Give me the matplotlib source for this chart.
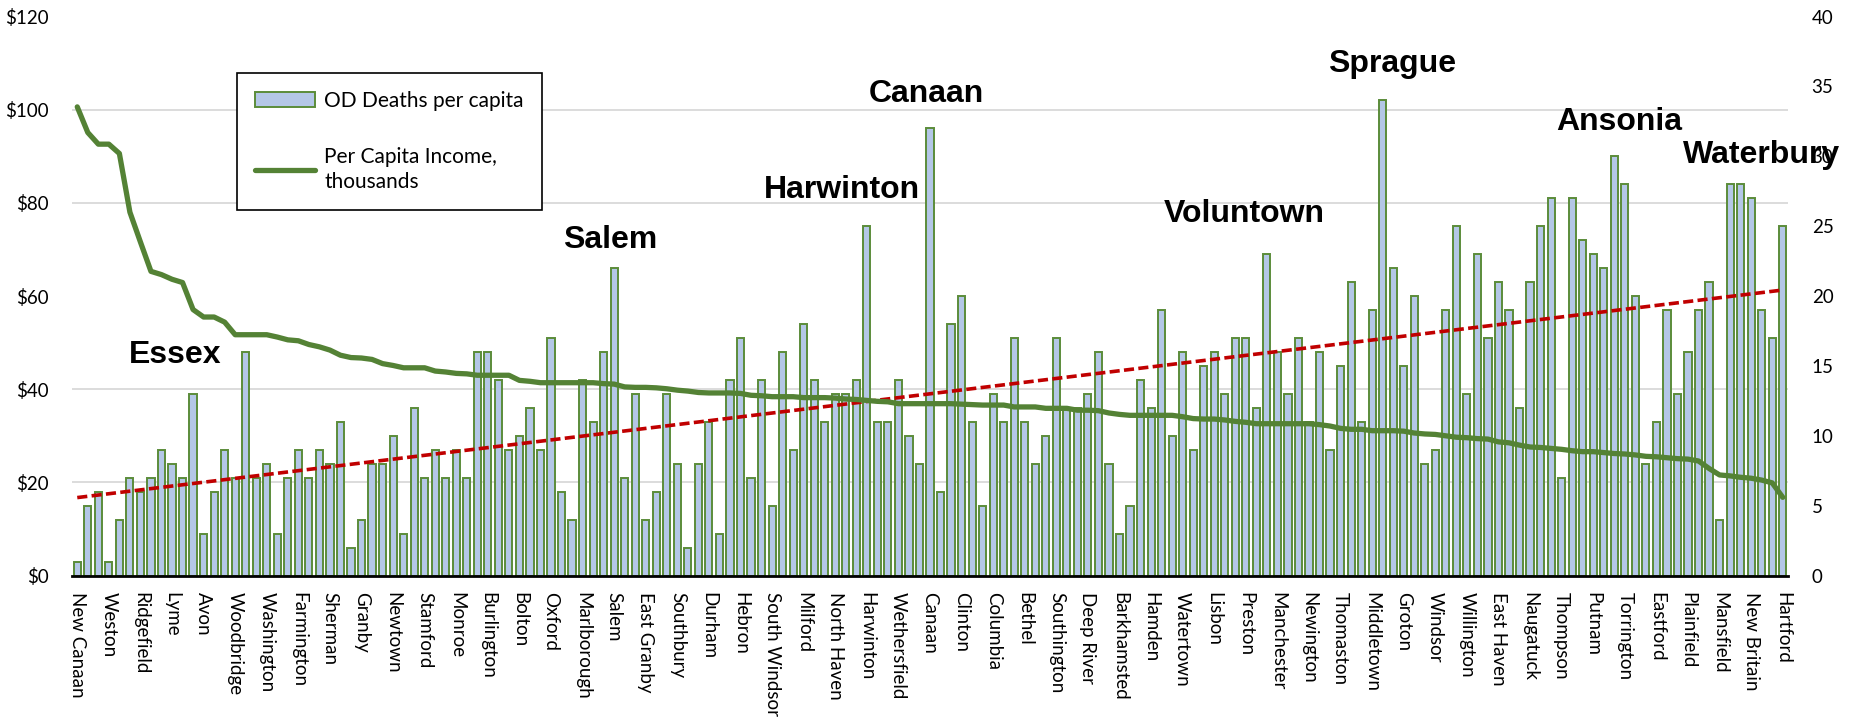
import matplotlib.pyplot as plt
import numpy as np
from matplotlib.ticker import FuncFormatter, MultipleLocator

# OD deaths per capita (right axis), one bar per town, sorted by income
od_deaths = [1, 5, 6, 1, 4, 7, 6, 7, 9, 8, 7, 13, 3, 6, 9, 7, 16, 7, 8, 3, 7, 9, 7, 9, 8, 11,
             2, 4, 8, 8, 10, 3, 12, 7, 9, 7, 9, 7, 16, 16, 14, 9, 10, 12, 9, 17, 6, 4, 14, 11, 16, 22, 7, 13,
             4, 6, 13, 8, 2, 8, 11, 3, 14, 17, 7, 14, 5, 16, 9, 18, 14, 11, 13, 13, 14, 25, 11, 11, 14, 10, 8, 32,
             6, 18, 20, 11, 5, 13, 11, 17, 11, 8, 10, 17, 12, 12, 13, 16, 8, 3, 5, 14, 12, 19, 10, 16, 9, 15, 16,
             13, 17, 17, 12, 23, 16, 13, 17, 11, 16, 9, 15, 21, 11, 19, 34, 22, 15, 20, 8, 9, 19, 25, 13, 23, 17, 21, 19,
             12, 21, 25, 27, 7, 27, 24, 23, 22, 30, 28, 20, 8, 11, 19, 13, 16, 19, 21, 4, 28, 28, 27, 19, 17, 25]

# per capita income, thousands of dollars (left axis)
income = [100.6, 95.1, 92.6, 92.6, 90.6, 78.0, 71.6, 65.3, 64.6, 63.6, 62.9, 57.1, 55.5, 55.5, 54.4,
          51.7, 51.7, 51.7, 51.7, 51.2, 50.6, 50.4, 49.6, 49.1, 48.4, 47.3, 46.8,
          46.7, 46.4, 45.5, 45.1, 44.6, 44.6, 44.6, 43.9, 43.7, 43.4, 43.3, 43.0, 43.0, 43.0, 43.0,
          41.9, 41.7, 41.4, 41.4, 41.4, 41.4, 41.4, 41.4, 41.2, 41.1, 40.5, 40.4, 40.4,
          40.3, 40.1, 39.8, 39.6, 39.3, 39.2, 39.2, 39.2, 39.1, 38.7, 38.6, 38.4, 38.4, 38.4, 38.2,
          38.2, 38.2, 38.1, 37.9, 37.8, 37.6, 37.4, 37.3, 36.9, 36.9, 36.9, 36.9,
          36.9, 36.9, 36.8, 36.7, 36.6, 36.6, 36.6, 36.2, 36.2, 36.2, 35.9, 35.9, 35.9, 35.5, 35.5,
          35.4, 34.9, 34.6, 34.4, 34.4, 34.4, 34.4, 34.4, 34.1, 33.7, 33.6, 33.6,
          33.4, 33.1, 32.9, 32.6, 32.6, 32.6, 32.6, 32.6, 32.6, 32.4, 32.1, 31.6, 31.4, 31.4, 31.1,
          31.1, 31.1, 31.0, 30.6, 30.4, 30.3, 30.0, 29.7, 29.6, 29.4, 29.3, 28.7, 28.5,
          28.0, 27.6, 27.5, 27.3, 27.1, 26.8, 26.6, 26.6, 26.4, 26.2, 26.1, 25.9, 25.6, 25.5, 25.3,
          25.1, 25.0, 24.6, 23.0, 21.6, 21.4, 21.1, 20.9, 20.5, 19.9, 16.8]

# every third town is labelled on the x axis
tick_labels = ['New Canaan', 'Weston', 'Ridgefield', 'Lyme', 'Avon', 'Woodbridge', 'Washington',
               'Farmington', 'Sherman', 'Granby', 'Newtown', 'Stamford', 'Monroe', 'Burlington',
               'Bolton', 'Oxford', 'Marlborough', 'Salem', 'East Granby', 'Southbury', 'Durham',
               'Hebron', 'South Windsor', 'Milford', 'North Haven', 'Harwinton', 'Wethersfield',
               'Canaan', 'Clinton', 'Columbia', 'Bethel', 'Southington', 'Deep River', 'Barkhamsted',
               'Hamden', 'Watertown', 'Lisbon', 'Preston', 'Manchester', 'Newington', 'Thomaston',
               'Middletown', 'Groton', 'Windsor', 'Willington', 'East Haven', 'Naugatuck', 'Thompson',
               'Putnam', 'Torrington', 'Eastford', 'Plainfield', 'Mansfield', 'New Britain', 'Hartford']

# highlighted towns: name, x (bar index), y (income scale, baseline)
callouts = [('Essex', 4.9, 45.6), ('Salem', 46.1, 70.3), ('Harwinton', 65.2, 81.0),
            ('Canaan', 75.2, 101.6), ('Voluntown', 103.2, 75.9), ('Sprague', 118.8, 108.1),
            ('Ansonia', 140.5, 95.6), ('Waterbury', 152.5, 88.5)]

plt.rcParams['font.family'] = ['Lato', 'DejaVu Sans']

n = len(od_deaths)
x = np.arange(n)

fig = plt.figure(figsize=(18.53, 7.2), dpi=100)
ax = fig.add_axes([72 / 1853, 1 - 575.6 / 720, 1716 / 1853, (575.6 - 16.5) / 720])

bars = ax.bar(x, od_deaths, width=0.68, color='#b4c7e7', edgecolor='#5b8c3a', linewidth=1.4,
              label='OD Deaths per capita', zorder=2)

# linear trend of the deaths series
slope, intercept = np.polyfit(x, od_deaths, 1)
ax.plot(x, slope * x + intercept, color='#c00000', lw=2.6, dashes=(2.8, 1.2), zorder=4)

ax.set_xlim(-0.5, n - 0.5)
ax.set_ylim(0, 40)
ax.set_xticks(x[::3])
ax.set_xticklabels(tick_labels, rotation=-90, fontsize=13.5)
ax.tick_params(axis='x', length=0, pad=12)
for s in ['left', 'right', 'top']:
    ax.spines[s].set_visible(False)
ax.spines['bottom'].set_linewidth(2)
ax.spines['bottom'].set_zorder(5)

ax2 = ax.twinx()
line, = ax2.plot(x, income, color='#548235', lw=3.8, solid_capstyle='round',
                 label='Per Capita Income,\nthousands', zorder=3)
ax2.set_ylim(0, 120)
ax2.yaxis.tick_left()
ax2.yaxis.set_major_locator(MultipleLocator(20))
ax2.yaxis.set_major_formatter(FuncFormatter(lambda v, pos: f'${v:.0f}'))
ax2.tick_params(axis='y', length=0, labelsize=13.5, pad=17)
for s in ax2.spines.values():
    s.set_visible(False)

# twinx moves the first axis ticks to the left, so put them back on the right
ax.yaxis.tick_right()
ax.yaxis.set_major_locator(MultipleLocator(5))
ax.yaxis.set_minor_locator(MultipleLocator(20 / 3))
ax.grid(which='minor', axis='y', color='#d9d9d9', lw=1.3, zorder=0)
ax.tick_params(axis='y', which='both', length=0, labelsize=13.5, pad=17)

for name, cx, cy in callouts:
    ax2.text(cx, cy, name, family='Liberation Sans', fontweight='bold', fontsize=23,
             ha='left', va='baseline', zorder=6)

leg = fig.legend(handles=[bars, line], loc='upper left', bbox_to_anchor=(237 / 1853, 1 - 73 / 720),
                 fontsize=15, frameon=True, fancybox=False, edgecolor='black', framealpha=1,
                 handlelength=2.9, labelspacing=1.75, borderpad=0.85, handletextpad=0.45,
                 borderaxespad=0)
leg.get_frame().set_linewidth(1.2)
for t in leg.get_texts():
    t.set_linespacing(1.3)

fig.savefig('out.png', dpi=100)
